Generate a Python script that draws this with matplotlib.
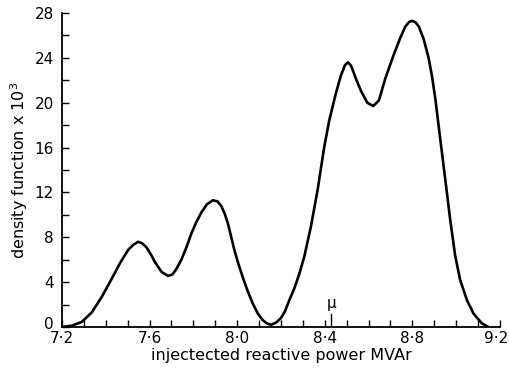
import matplotlib.pyplot as plt
import matplotlib.transforms as mtransforms
import numpy as np

# values (density x 10^3 against injected MVAr)
power = [7.20, 7.245, 7.29, 7.336, 7.382, 7.427, 7.465, 7.503, 7.527, 7.548,
         7.567, 7.586, 7.605, 7.624, 7.655, 7.685, 7.705, 7.723, 7.745, 7.768,
         7.79, 7.812, 7.836, 7.862, 7.889, 7.91, 7.927, 7.943, 7.958, 7.973,
         7.988, 8.006, 8.026, 8.048, 8.071, 8.094, 8.117, 8.137, 8.155, 8.178,
         8.20, 8.218, 8.238, 8.26, 8.283, 8.306, 8.336, 8.367, 8.382, 8.397,
         8.42, 8.45, 8.473, 8.492, 8.506, 8.52, 8.541, 8.564, 8.594, 8.621, 8.647,
         8.677, 8.715, 8.745, 8.768, 8.785, 8.799, 8.815, 8.829, 8.851, 8.874,
         8.89, 8.905, 8.92, 8.939, 8.958, 8.973, 8.995, 9.018, 9.049, 9.079,
         9.117, 9.147]
density = [0.0, 0.12, 0.45, 1.3, 2.7, 4.3, 5.7, 6.9, 7.35, 7.6,
           7.45, 7.1, 6.5, 5.8, 4.9, 4.55, 4.7, 5.2, 6.0, 7.1,
           8.3, 9.3, 10.2, 10.95, 11.3, 11.2, 10.8, 10.1, 9.2, 8.0,
           6.8, 5.6, 4.4, 3.2, 2.1, 1.2, 0.6, 0.3, 0.2, 0.4,
           0.8, 1.4, 2.4, 3.4, 4.7, 6.25, 8.9, 12.2, 14.1, 16.0,
           18.4, 20.8, 22.4, 23.35, 23.6, 23.3, 22.2, 21.1, 20.0, 19.7, 20.2,
           22.2, 24.3, 25.8, 26.8, 27.2, 27.3, 27.15, 26.8, 25.7, 24.0,
           22.3, 20.3, 17.9, 14.9, 11.9, 9.5, 6.4, 4.2, 2.4, 1.2,
           0.33, 0.0]
mu = 8.43

x_major = [7.2, 7.6, 8.0, 8.4, 8.8, 9.2]
x_labels = ["7·2", "7·6", "8·0", "8·4", "8·8", "9·2"]
y_major = [0, 4, 8, 12, 16, 20, 24, 28]

fig = plt.figure(figsize=(5.09, 3.79), dpi=100)
ax = fig.add_axes([62 / 509, 52 / 379, 438 / 509, 314 / 379])

ax.plot(power, density, color="black", lw=1.9,
        solid_capstyle="round", solid_joinstyle="round")

# the mean marker
ax.plot([mu, mu], [0, 1.2], color="black", lw=1.0)
ax.text(mu, 1.4, "μ", ha="center", va="bottom", fontsize=11)

ax.set_xlim(7.2, 9.2)
ax.set_ylim(0, 28)
ax.set_xticks(x_major)
ax.set_xticklabels(x_labels)
ax.set_xticks(np.arange(7.2, 9.21, 0.1), minor=True)
ax.set_yticks(y_major)
ax.set_yticks(np.arange(0, 28.1, 2), minor=True)

ax.tick_params(which="both", direction="in", length=5, width=1.0, labelsize=11)
ax.tick_params(axis="x", pad=3)
ax.tick_params(axis="y", pad=6)
for s in ["top", "right"]:
    ax.spines[s].set_visible(False)
for s in ["left", "bottom"]:
    ax.spines[s].set_linewidth(1.3)

# nudge the end labels like the original: 9.2 sits inside the edge, 0 a bit up
last = ax.get_xticklabels()[-1]
last.set_transform(last.get_transform() + mtransforms.ScaledTranslation(-4 / 100, 0, fig.dpi_scale_trans))
zero = ax.get_yticklabels()[0]
zero.set_transform(zero.get_transform() + mtransforms.ScaledTranslation(0, 4 / 100, fig.dpi_scale_trans))

ax.set_xlabel("injectected reactive power MVAr", fontsize=11.5, labelpad=1)
ax.set_ylabel("density function x 10$^3$", fontsize=11.5, labelpad=3)

fig.savefig("out.png", dpi=100)
